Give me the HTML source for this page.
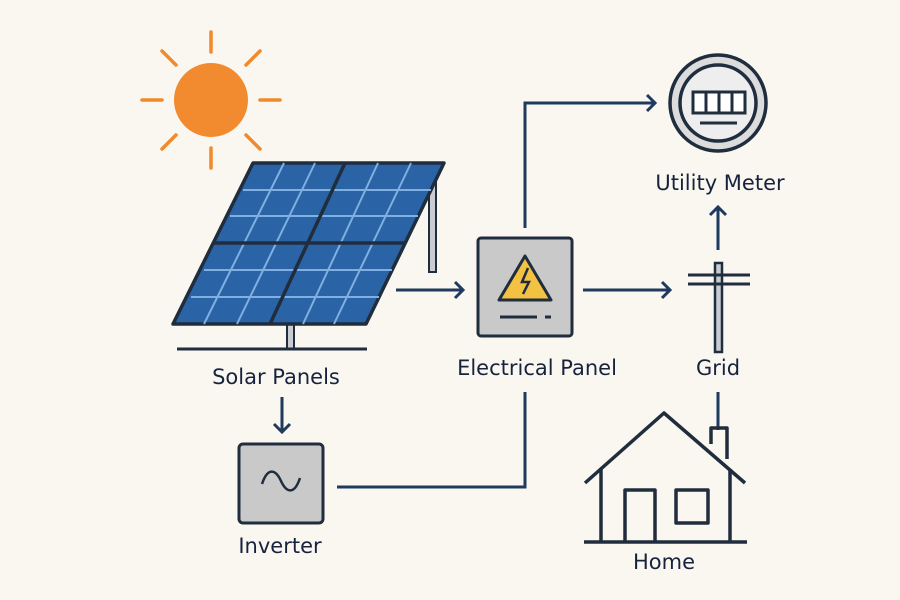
<!DOCTYPE html>
<html><head><meta charset="utf-8"><style>
html,body{margin:0;padding:0;background:#faf7f1;}
svg{display:block}
text{font-family:"DejaVu Sans","Liberation Sans",sans-serif;fill:#17233d;font-size:21px;text-anchor:middle}
</style></head><body>
<svg width="900" height="600" viewBox="0 0 900 600" xmlns="http://www.w3.org/2000/svg">
<rect width="900" height="600" fill="#faf7f1"/>
<g stroke="#f08a2c" stroke-width="3.5" stroke-linecap="round">
<line x1="211" y1="32" x2="211" y2="52"/><line x1="211" y1="148" x2="211" y2="168"/>
<line x1="142" y1="100" x2="162" y2="100"/><line x1="260" y1="100" x2="280" y2="100"/>
<line x1="162" y1="51" x2="176" y2="65"/><line x1="246" y1="135" x2="260" y2="149"/>
<line x1="260" y1="51" x2="246" y2="65"/><line x1="176" y1="135" x2="162" y2="149"/>
</g>
<circle cx="211" cy="100" r="37" fill="#f28b30"/>
<rect x="429" y="180" width="7" height="92" fill="#c9ccd0" stroke="#1f2d3d" stroke-width="2"/>
<rect x="287" y="322" width="7" height="27" fill="#c9ccd0" stroke="#1f2d3d" stroke-width="2"/>
<line x1="177" y1="349" x2="367" y2="349" stroke="#1f2d3d" stroke-width="3"/>
<polygon points="253,163 444,163 366,324 173,324" fill="#2a64a6" stroke="#1f2d3d" stroke-width="3.5" stroke-linejoin="round"/>
<g stroke="#7fb0e0" stroke-width="2">
<line x1="243" y1="190" x2="431" y2="190"/><line x1="230" y1="216" x2="418" y2="216"/>
<line x1="204" y1="270" x2="392" y2="270"/><line x1="191" y1="297" x2="379" y2="297"/>
<line x1="284" y1="163" x2="204" y2="324"/><line x1="315" y1="163" x2="237" y2="324"/>
<line x1="378" y1="163" x2="303" y2="324"/><line x1="411" y1="163" x2="334" y2="324"/>
</g>
<g stroke="#1f2d3d" stroke-width="3.5">
<line x1="214" y1="243" x2="405" y2="243"/><line x1="345" y1="163" x2="270" y2="324"/>
</g>
<text x="276" y="384">Solar Panels</text>
<g stroke="#1e3a5f" stroke-width="3" fill="none">
<line x1="396" y1="290" x2="462" y2="290"/><polyline points="455,282 463,290 455,298"/>
<polyline points="525,228 525,103 654,103"/><polyline points="647,95 655,103 647,111"/>
<line x1="583" y1="290" x2="669" y2="290"/><polyline points="662,282 670,290 662,298"/>
<line x1="718" y1="250" x2="718" y2="208"/><polyline points="710,215 718,207 726,215"/>
<line x1="282" y1="397" x2="282" y2="431"/><polyline points="274,424 282,432 290,424"/>
<polyline points="337,487 525,487 525,392"/>
<line x1="718" y1="392" x2="718" y2="430"/>
</g>
<rect x="478" y="238" width="94" height="98" rx="3" fill="#c9c9c9" stroke="#1f2d3d" stroke-width="3"/>
<polygon points="525,256 551,300 499,300" fill="#f3c242" stroke="#1f2d3d" stroke-width="3" stroke-linejoin="round"/>
<polyline points="528,268 522,282 529,282 523,294" fill="none" stroke="#1f2d3d" stroke-width="2.5"/>
<line x1="500" y1="317" x2="537" y2="317" stroke="#1f2d3d" stroke-width="3"/>
<line x1="545" y1="317" x2="551" y2="317" stroke="#1f2d3d" stroke-width="3"/>
<text x="537" y="375">Electrical Panel</text>
<circle cx="718" cy="103" r="48" fill="#dcdcdc" stroke="#1f2d3d" stroke-width="3.5"/>
<circle cx="718" cy="103" r="38" fill="#eeeeee" stroke="#1f2d3d" stroke-width="3.5"/>
<rect x="693" y="92" width="52" height="21" fill="#fff" stroke="#1f2d3d" stroke-width="3"/>
<g stroke="#1f2d3d" stroke-width="3"><line x1="706" y1="92" x2="706" y2="113"/><line x1="719" y1="92" x2="719" y2="113"/><line x1="732" y1="92" x2="732" y2="113"/>
<line x1="700" y1="123" x2="737" y2="123"/></g>
<text x="720" y="190">Utility Meter</text>
<rect x="715" y="263" width="7" height="89" fill="#c9ccd0" stroke="#1f2d3d" stroke-width="2.5"/>
<line x1="688" y1="275" x2="750" y2="275" stroke="#1f2d3d" stroke-width="3"/>
<line x1="688" y1="284" x2="750" y2="284" stroke="#1f2d3d" stroke-width="3"/>
<text x="718" y="375">Grid</text>
<g stroke="#1f2d3d" stroke-width="3.5" fill="none" stroke-linejoin="round">
<polyline points="711,444 711,428 727,428 727,459"/>
<polyline points="585,483 664,413 745,483"/>
<polyline points="601,469 601,542"/><polyline points="730,469 730,542"/>
<line x1="584" y1="542" x2="747" y2="542"/>
<polyline points="625,542 625,490 655,490 655,542"/>
<rect x="676" y="490" width="32" height="33"/>
</g>
<text x="664" y="569">Home</text>
<rect x="239" y="444" width="84" height="79" rx="4" fill="#c9c9c9" stroke="#1f2d3d" stroke-width="3"/>
<path d="M262,484 C268,466 276,470 281,481 C286,492 294,496 300,478" fill="none" stroke="#1f2d3d" stroke-width="2.5"/>
<text x="280" y="553">Inverter</text>
</svg>
</body></html>
